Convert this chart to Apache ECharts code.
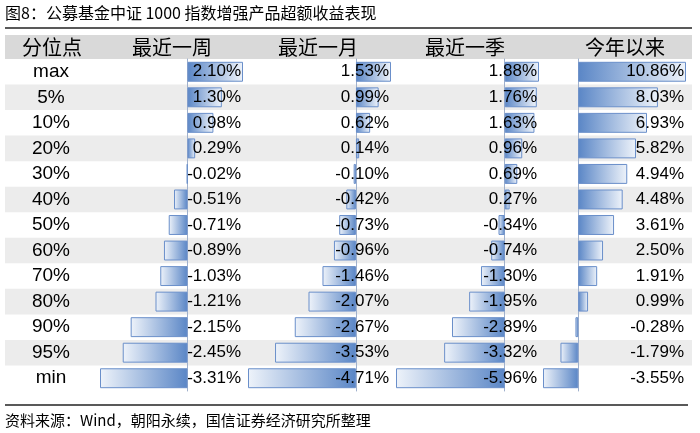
<!DOCTYPE html>
<html><head><meta charset="utf-8">
<script src="https://cdn.jsdelivr.net/npm/echarts/dist/echarts.min.js"></script>
<style>html,body{margin:0;padding:0;background:#fff}#c{width:700px;height:433px}</style>
</head><body><div id="c"></div>
<script>
const titleText = '图8：公募基金中证 1000 指数增强产品超额收益表现';
const sourceText = '资料来源：Wind，朝阳永续，国信证券经济研究所整理';
const categories = ['max','5%','10%','20%','30%','40%','50%','60%','70%','80%','90%','95%','min'];
const headers = ['分位点','最近一周','最近一月','最近一季','今年以来'];
const week = [2.10,1.30,0.98,0.29,-0.02,-0.51,-0.71,-0.89,-1.03,-1.21,-2.15,-2.45,-3.31];
const month = [1.53,0.99,0.62,0.14,-0.10,-0.42,-0.73,-0.96,-1.46,-2.07,-2.67,-3.53,-4.71];
const season = [1.88,1.76,1.63,0.96,0.69,0.27,-0.34,-0.74,-1.30,-1.95,-2.89,-3.32,-5.96];
const ytd = [10.86,8.03,6.93,5.82,4.94,4.48,3.61,2.50,1.91,0.99,-0.28,-1.79,-3.55];

const columns = [week, month, season, ytd];
const colLeft = [100, 248, 396, 543];
const colWidth = 143;
const headerX = [52, 172, 318, 465, 625];
const TOP = 59, H = 332;
const LATIN = 'Liberation Sans, Arial, sans-serif';
const CJK = 'Noto Sans CJK SC, sans-serif';
const DARK = '#5a86c6', LIGHT = '#eef3fa';

const chart = echarts.init(document.getElementById('c'));

function grad(v) {
  return v >= 0
    ? new echarts.graphic.LinearGradient(0,0,1,0,[{offset:0,color:DARK},{offset:1,color:LIGHT}])
    : new echarts.graphic.LinearGradient(0,0,1,0,[{offset:0,color:LIGHT},{offset:1,color:DARK}]);
}

const grid = [{left:5, top:TOP, width:687, height:H}];
const xAxis = [{gridIndex:0, type:'value', show:false, min:0, max:1}];
const yAxis = [{
  gridIndex:0, type:'category', data:categories, inverse:true,
  axisLine:{show:false}, axisTick:{show:false},
  axisLabel:{inside:true, align:'center', margin:46, fontSize:19, color:'#000', fontFamily:LATIN},
  splitArea:{show:true, areaStyle:{color:['rgba(255,255,255,0)','#ececec']}}
}];
const series = [];

columns.forEach((vals, i) => {
  const g = i + 1;
  grid.push({left:colLeft[i], top:TOP, width:colWidth, height:H});
  xAxis.push({gridIndex:g, type:'value', show:false, min:'dataMin', max:'dataMax'});
  const yMain = yAxis.length;
  yAxis.push({
    gridIndex:g, type:'category', data:categories, inverse:true,
    axisLine:{show:true, onZero:true, lineStyle:{color:'#9fb0cc', width:1}},
    axisTick:{show:false}, axisLabel:{show:false}, splitLine:{show:false}
  });
  yAxis.push({
    gridIndex:g, type:'category', position:'right', inverse:true,
    data: vals.map(v => v.toFixed(2) + '%'),
    axisLine:{show:false}, axisTick:{show:false},
    axisLabel:{inside:true, margin:2, fontSize:17, color:'#000', fontFamily:LATIN},
    z: 10
  });
  series.push({
    type:'bar', xAxisIndex:g, yAxisIndex:yMain, barWidth:'78%',
    data: vals.map(v => ({value:v, itemStyle:{color:grad(v), borderColor:'#6a8fca', borderWidth:1}})),
    silent:true, animation:false
  });
});

const graphic = [
  {type:'text', left:5, top:5, style:{text:titleText, font:'16px ' + CJK, fill:'#000'}},
  {type:'line', shape:{x1:5, y1:28, x2:692, y2:28}, style:{stroke:'#222', lineWidth:1.5}},
  {type:'rect', shape:{x:5, y:35, width:687, height:24}, style:{fill:'#d9d9d9'}, z:-1},
  {type:'line', shape:{x1:5, y1:405, x2:688, y2:405}, style:{stroke:'#222', lineWidth:1.5}},
  {type:'text', left:5, top:413, style:{text:sourceText, font:'15px ' + CJK, fill:'#000'}}
];
headers.forEach((h, i) => {
  graphic.push({type:'text', x:headerX[i], y:47, style:{text:h, font:'20px ' + CJK, fill:'#000', align:'center', verticalAlign:'middle'}});
});

chart.setOption({animation:false, grid, xAxis, yAxis, series, graphic});
</script></body></html>
